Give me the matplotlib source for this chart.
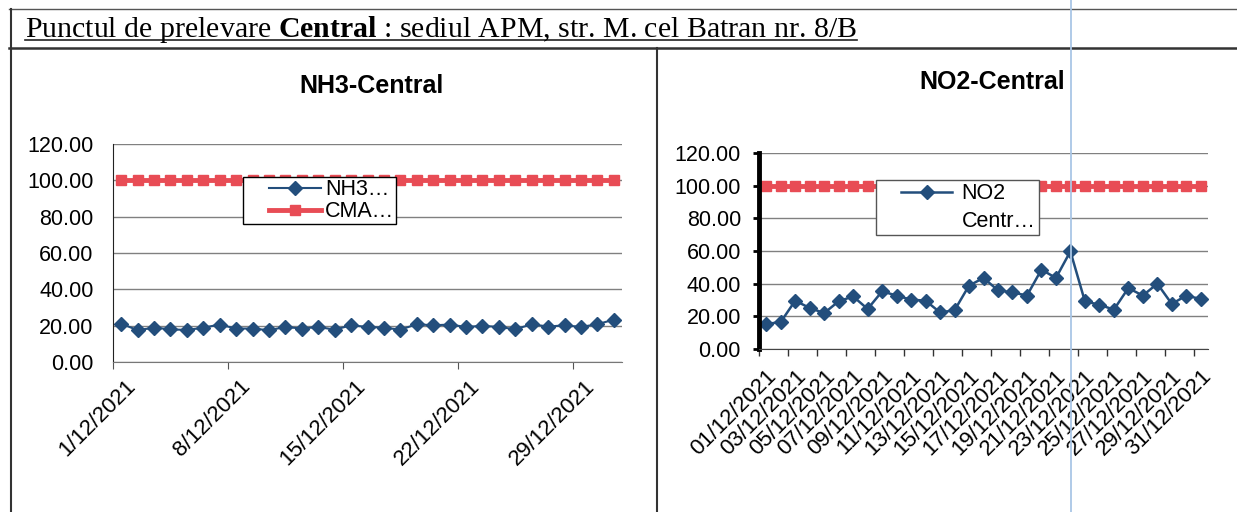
import matplotlib
matplotlib.use('Agg')
import matplotlib.pyplot as plt
import matplotlib.transforms as mtransforms
from matplotlib.lines import Line2D
from matplotlib.legend_handler import HandlerLine2D
import numpy as np

# data (December 2021, Central station)
nh3 = [21.1, 17.5, 18.9, 18.0, 17.6, 18.9, 20.6, 18.4, 18.4, 17.5,
       19.3, 18.4, 19.3, 17.8, 20.2, 19.3, 18.9, 17.8, 20.8, 20.2,
       20.6, 19.3, 19.9, 19.3, 18.0, 20.8, 19.5, 20.2, 19.3, 20.8, 23.3]
no2 = [15.3, 16.5, 29.6, 25.1, 22.0, 29.2, 32.2, 24.5, 35.3, 32.7,
       30.2, 29.6, 22.4, 23.7, 38.8, 43.5, 35.9, 34.7, 32.7, 48.6,
       43.5, 59.8, 29.2, 27.1, 24.1, 37.3, 32.7, 40.0, 27.6, 32.7, 30.6]
cma = [100, 100, 100, 100, 100, 100, 100, 100, 100, 100,
       100, 100, 100, 100, 100, 100, 100, 100, 100, 100,
       100, 100, 100, 100, 100, 100, 100, 100, 100, 100, 100]

nh3_ticks = [0, 7, 14, 21, 28]
nh3_labels = ['1/12/2021', '8/12/2021', '15/12/2021', '22/12/2021', '29/12/2021']
no2_labels = ['01/12/2021', '03/12/2021', '05/12/2021', '07/12/2021',
              '09/12/2021', '11/12/2021', '13/12/2021', '15/12/2021',
              '17/12/2021', '19/12/2021', '21/12/2021', '23/12/2021',
              '25/12/2021', '27/12/2021', '29/12/2021', '31/12/2021']
y_ticks = [0, 20, 40, 60, 80, 100, 120]

W, H = 1237, 512
BLUE = '#234e7c'
RED = '#e84c55'
GRID = '#808080'

plt.rcParams['font.family'] = ['Liberation Sans', 'DejaVu Sans']

fig = plt.figure(figsize=(W / 100, H / 100), dpi=100)


class PadHandler(HandlerLine2D):
    # Excel leaves a gap before the legend line; push the line to the right
    def __init__(self, frac, **kw):
        super().__init__(**kw)
        self.frac = frac

    def create_artists(self, legend, orig_handle, xdescent, ydescent,
                       width, height, fontsize, trans):
        p = self.frac * width
        return super().create_artists(legend, orig_handle, xdescent - p, ydescent,
                                      width - p, height, fontsize, trans)


def px(x0, y0, x1, y1):
    # pixel box -> figure fraction rect
    return [x0 / W, 1 - y1 / H, (x1 - x0) / W, (y1 - y0) / H]


def style_axes(ax):
    ax.set_ylim(0, 120)
    ax.set_yticks(y_ticks)
    ax.set_yticklabels(['%.2f' % v for v in y_ticks], fontsize=15.5)
    ax.grid(axis='y', color=GRID, linewidth=1)
    ax.set_axisbelow(True)
    for s in ('top', 'right'):
        ax.spines[s].set_visible(False)


# ---- left: NH3 (date axis) ----
ax1 = fig.add_axes(px(113, 144, 622, 362))
x1 = np.arange(len(nh3)) + 0.5
cma1, = ax1.plot(x1, cma, color=RED, linewidth=3.5, marker='s', markersize=6.5)
nh31, = ax1.plot(x1, nh3, color=BLUE, linewidth=1.5, marker='D', markersize=7)
style_axes(ax1)
ax1.set_xlim(0, 31)
ax1.set_xticks(nh3_ticks)
ax1.set_xticklabels(nh3_labels, rotation=45, ha='right', va='top',
                    rotation_mode='anchor', fontsize=16)
ax1.tick_params(axis='x', length=5, color='#555555', pad=5)
ax1.tick_params(axis='y', length=0, pad=14)
ax1.spines['left'].set_color('#222222')
ax1.spines['bottom'].set_color('#777777')
shift = mtransforms.ScaledTranslation(12 / 100, 0, fig.dpi_scale_trans)
for lab in ax1.get_xticklabels():
    lab.set_transform(lab.get_transform() + shift)
hm = PadHandler(0.32)
ax1.legend([nh31, cma1], ['NH3…', 'CMA…'], loc='upper left',
           bbox_to_anchor=(243 / W, 1 - 177 / H), bbox_transform=fig.transFigure,
           handler_map={nh31: hm, cma1: hm},
           fontsize=15.5, frameon=True, fancybox=False, edgecolor='black',
           framealpha=1, borderpad=0.1, handlelength=3.5, handletextpad=0.2,
           labelspacing=0.05, borderaxespad=0)

# ---- right: NO2 (category axis) ----
ax2 = fig.add_axes(px(759, 153, 1208, 349))
x2 = np.arange(len(no2))
ax2.plot(x2, cma, color=RED, linewidth=3.5, marker='s', markersize=6.5)
ln, = ax2.plot(x2, no2, color=BLUE, linewidth=1.8, marker='D', markersize=7)
style_axes(ax2)
ax2.set_xlim(-0.5, 30.5)
ax2.set_xticks(x2[::2])
ax2.set_xticklabels(no2_labels, rotation=45, ha='right', va='top',
                    rotation_mode='anchor', fontsize=16)
ax2.set_xticks(np.arange(-0.5, 30, 2), minor=True)
ax2.tick_params(axis='x', which='major', length=0, pad=12)
ax2.tick_params(axis='x', which='minor', length=5, color='#333333', width=1)
ax2.tick_params(axis='y', length=4, width=2, color='black', pad=9)
ax2.spines['left'].set_linewidth(3.5)
ax2.spines['left'].set_color('black')
ax2.spines['bottom'].set_color('#444444')
blank = Line2D([], [], alpha=0)
ax2.legend([ln, blank], ['NO2', 'Centr…'], loc='upper left',
           bbox_to_anchor=(876 / W, 1 - 180 / H), bbox_transform=fig.transFigure,
           handler_map={ln: PadHandler(0.3)},
           fontsize=15.5, frameon=True, fancybox=False, edgecolor='#555555',
           framealpha=1, borderpad=0.15, handlelength=3.4, handletextpad=0.42,
           labelspacing=0.3, borderaxespad=0)

# chart titles
fig.text(372 / W, 1 - 86 / H, 'NH3-Central', ha='center', va='center',
         fontsize=18, fontweight='bold')
fig.text(992 / W, 1 - 82 / H, 'NO2-Central', ha='center', va='center',
         fontsize=18, fontweight='bold')

# header with underline
plt.rcParams['mathtext.fontset'] = 'custom'
plt.rcParams['mathtext.rm'] = 'Liberation Serif'
plt.rcParams['mathtext.bf'] = 'Liberation Serif:bold'
head = fig.text(25 / W, 1 - 37 / H,
                r'Punctul de prelevare $\mathbf{Central}$ : sediul APM, str. M. cel Batran nr. 8/B',
                family='Liberation Serif', fontsize=21.5, va='baseline', ha='left')
fig.canvas.draw()
bb = head.get_window_extent(fig.canvas.get_renderer())
fig.add_artist(Line2D([bb.x0 / W, bb.x1 / W], [1 - 40 / H, 1 - 40 / H],
                      color='#222222', linewidth=1.2))


# table borders of the scanned page
def fline(xs, ys, **kw):
    fig.add_artist(Line2D([x / W for x in xs], [1 - y / H for y in ys], **kw))


fline([9, W], [9, 9], color='#555555', linewidth=1)
fline([9, W], [48, 48], color='#333333', linewidth=1.8)
fline([11, 11], [9, H], color='#333333', linewidth=1.5)
fline([657, 657], [48, H], color='#333333', linewidth=1.5)
# faint blue scan line
fline([1071, 1071], [0, H], color='#a9c6e6', linewidth=1.3)

fig.savefig('out.png', dpi=100)
